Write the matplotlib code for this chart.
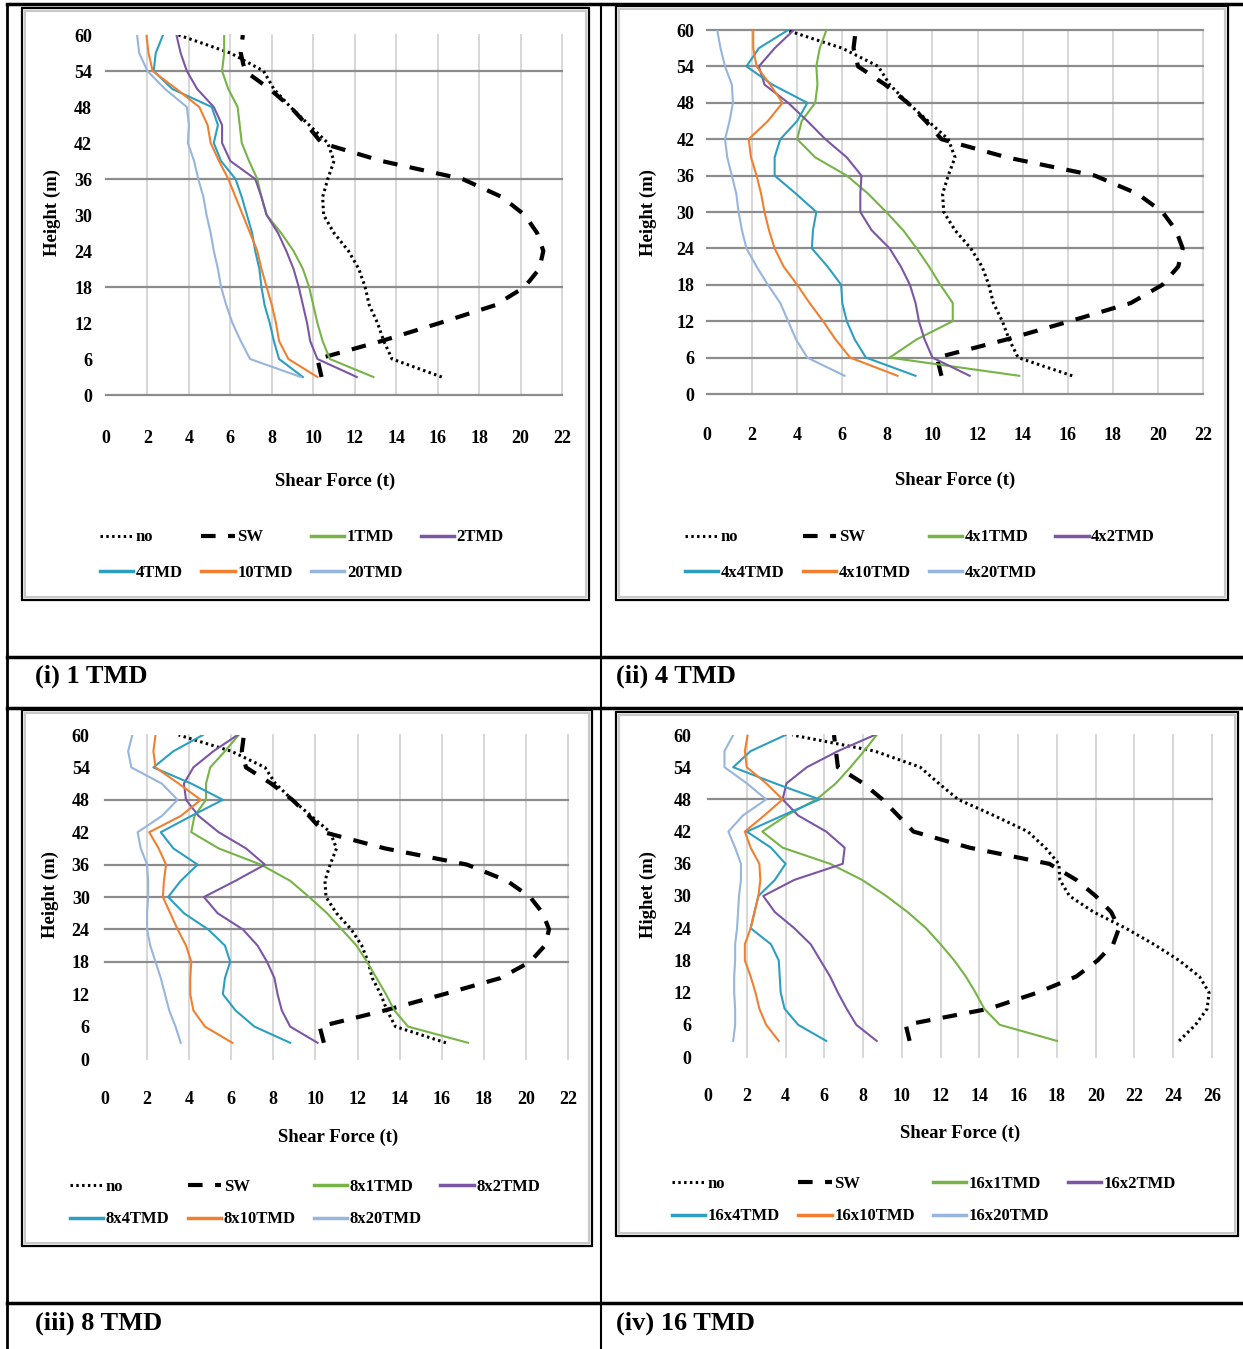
import numpy as np
import matplotlib.pyplot as plt
from matplotlib.lines import Line2D
from matplotlib.patches import Rectangle

# === Data (shear force in t, read bottom -> top) ===

heights = [3, 6, 9, 12, 15, 18, 21, 24, 27, 30, 33, 36, 39, 42, 45, 48, 51, 54, 57, 60]

no_tmd = [16.2, 13.8, 13.4, 13.1, 12.7, 12.5, 12.2, 11.7, 11.0, 10.5,
          10.45, 10.7, 11.0, 10.7, 9.8, 8.9, 8.1, 7.6, 6.0, 3.5]
sw = [10.4, 10.2, 13.3, 16.1, 18.8, 20.2, 20.9, 21.1, 20.8, 20.2,
      19.1, 17.2, 13.3, 10.4, 9.7, 8.9, 7.9, 6.7, 6.5, 6.6]

# (i) 1 TMD
p1_1 = [12.9, 10.8, 10.45, 10.2, 10.0, 9.8, 9.5, 9.05, 8.45, 7.75,
        7.5, 7.3, 6.9, 6.55, 6.45, 6.35, 5.9, 5.6, 5.7, 5.7]
p1_2 = [12.1, 10.2, 9.85, 9.7, 9.5, 9.3, 9.05, 8.7, 8.3, 7.75,
        7.5, 7.2, 6.0, 5.6, 5.6, 5.2, 4.4, 3.9, 3.6, 3.4]
p1_4 = [9.5, 8.35, 8.1, 7.9, 7.65, 7.5, 7.4, 7.2, 7.05, 6.8,
        6.55, 6.25, 5.55, 5.2, 5.4, 5.1, 3.2, 2.3, 2.4, 2.75]
p1_10 = [10.2, 8.8, 8.35, 8.2, 8.0, 7.75, 7.5, 7.3, 6.95, 6.6,
         6.25, 5.9, 5.45, 5.05, 4.9, 4.5, 3.4, 2.25, 2.05, 1.95]
p1_20 = [9.4, 6.95, 6.5, 6.1, 5.8, 5.55, 5.4, 5.2, 5.05, 4.85,
         4.7, 4.45, 4.25, 3.95, 4.0, 3.9, 2.85, 2.0, 1.6, 1.5]

# (ii) 4 TMD
p4_1 = [13.85, 8.1, 9.3, 10.9, 10.9, 10.35, 9.85, 9.3, 8.7, 7.95,
        7.15, 6.2, 4.8, 4.0, 4.2, 4.8, 4.9, 4.85, 5.0, 5.3]
p4_2 = [11.65, 10.0, 9.65, 9.4, 9.25, 9.0, 8.6, 8.1, 7.3, 6.8,
        6.8, 6.85, 6.2, 5.25, 4.45, 3.6, 2.55, 2.3, 3.0, 3.85]
p4_4 = [9.25, 7.05, 6.55, 6.2, 6.0, 5.95, 5.35, 4.65, 4.7, 4.85,
        3.95, 3.0, 3.0, 3.25, 4.0, 4.45, 2.9, 1.75, 2.3, 3.6]
p4_10 = [8.45, 6.35, 5.7, 5.15, 4.55, 4.0, 3.4, 3.0, 2.75, 2.55,
         2.4, 2.2, 1.95, 1.85, 2.7, 3.35, 2.8, 2.2, 2.05, 2.05]
p4_20 = [6.1, 4.45, 3.95, 3.6, 3.25, 2.7, 2.2, 1.75, 1.55, 1.4,
         1.3, 1.1, 0.9, 0.8, 1.0, 1.15, 1.1, 0.8, 0.6, 0.45]

# (iii) 8 TMD
p8_1 = [17.25, 14.4, 13.75, 13.35, 12.9, 12.45, 11.95, 11.25, 10.55, 9.7,
        8.8, 7.4, 5.4, 4.1, 4.25, 4.8, 4.8, 5.0, 5.7, 6.35]
p8_2 = [10.1, 8.8, 8.4, 8.2, 8.05, 7.7, 7.25, 6.55, 5.35, 4.7,
        6.2, 7.6, 6.7, 5.4, 4.45, 3.85, 3.75, 4.2, 5.15, 6.3]
p8_4 = [8.8, 7.1, 6.2, 5.6, 5.7, 5.95, 5.7, 4.9, 3.75, 3.0,
        3.6, 4.4, 3.25, 2.65, 4.1, 5.6, 4.1, 2.3, 3.25, 4.65]
p8_10 = [6.05, 4.75, 4.2, 4.05, 4.05, 4.1, 3.85, 3.45, 3.1, 2.75,
         2.8, 2.9, 2.55, 2.1, 3.6, 4.55, 3.5, 2.4, 2.3, 2.4]
p8_20 = [3.6, 3.35, 3.05, 2.85, 2.65, 2.4, 2.15, 2.0, 2.0, 2.05,
         2.05, 2.0, 1.7, 1.55, 2.7, 3.45, 2.7, 1.25, 1.1, 1.3]

# (iv) 16 TMD
no_16 = [24.3, 25.15, 25.75, 25.85, 25.35, 24.3, 23.0, 21.55, 19.9, 18.65,
         18.15, 18.1, 17.4, 16.5, 14.75, 12.9, 11.9, 10.95, 8.6, 4.35]
sw_16 = [10.4, 10.2, 14.5, 17.0, 19.0, 20.1, 20.9, 21.2, 20.8, 20.0,
         19.0, 17.6, 13.5, 10.6, 9.8, 9.0, 8.0, 6.7, 6.6, 6.5]
p16_1 = [18.0, 15.05, 14.25, 13.8, 13.3, 12.7, 12.0, 11.25, 10.3, 9.2,
         7.95, 6.3, 3.85, 2.8, 4.05, 5.6, 6.6, 7.35, 8.05, 8.7]
p16_2 = [8.7, 7.65, 7.15, 6.7, 6.3, 5.8, 5.3, 4.45, 3.45, 2.85,
         4.45, 6.95, 7.05, 6.1, 4.65, 3.85, 4.05, 5.1, 6.7, 8.6]
p16_4 = [6.1, 4.65, 3.95, 3.75, 3.7, 3.65, 3.25, 2.2, 2.4, 2.6,
         3.45, 4.0, 3.25, 2.0, 3.85, 5.75, 3.45, 1.3, 2.2, 4.0]
p16_10 = [3.65, 3.0, 2.65, 2.45, 2.2, 1.9, 1.9, 2.2, 2.4, 2.6,
          2.7, 2.65, 2.2, 1.9, 2.9, 3.85, 3.0, 2.0, 1.9, 2.05]
p16_20 = [1.3, 1.4, 1.4, 1.35, 1.35, 1.4, 1.4, 1.5, 1.55, 1.6,
          1.7, 1.7, 1.4, 1.05, 1.8, 3.0, 2.0, 0.85, 0.85, 1.3]

labels_1 = ["1TMD", "2TMD", "4TMD", "10TMD", "20TMD"]
labels_4 = ["4x1TMD", "4x2TMD", "4x4TMD", "4x10TMD", "4x20TMD"]
labels_8 = ["8x1TMD", "8x2TMD", "8x4TMD", "8x10TMD", "8x20TMD"]
labels_16 = ["16x1TMD", "16x2TMD", "16x4TMD", "16x10TMD", "16x20TMD"]
captions = ["(i) 1 TMD", "(ii) 4 TMD", "(iii) 8 TMD", "(iv) 16 TMD"]

colors = ["#77b347", "#7b56a4", "#2c9fc0", "#f08030", "#97b5dd"]

# === Figure ===

W, H = 1243, 1349
plt.rcParams['font.family'] = ['Liberation Serif', 'DejaVu Serif']
plt.rcParams['font.weight'] = 'bold'

fig = plt.figure(figsize=(W / 100, H / 100), dpi=100)


def fx(x):
    return x / W


def fy(y):
    return 1 - y / H


def hline(y, x0, x1, lw):
    fig.add_artist(Line2D([fx(x0), fx(x1)], [fy(y), fy(y)], color="black", lw=lw,
                          transform=fig.transFigure))


def vline(x, y0, y1, lw):
    fig.add_artist(Line2D([fx(x), fx(x)], [fy(y0), fy(y1)], color="black", lw=lw,
                          transform=fig.transFigure))


def panel(box, area, xmax, hgrid, no, swv, curves, labels, ylabel,
          xlab, ylab, leg, xpad, ypad, rowsp):
    l, t, r, b = box
    fig.add_artist(Rectangle((fx(l + 3), fy(b - 3)), (r - l - 6) / W, (b - t - 6) / H,
                             fill=False, ec="#c8c8c8", lw=1.5, transform=fig.transFigure))
    fig.add_artist(Rectangle((fx(l), fy(b)), (r - l) / W, (b - t) / H,
                             fill=False, ec="black", lw=1.6, transform=fig.transFigure))

    al, at, ar, ab = area
    ax = fig.add_axes([fx(al), fy(ab), (ar - al) / W, (ab - at) / H])
    ax.set_xlim(0, xmax)
    ax.set_ylim(0, 60)
    ax.set_xticks(range(0, xmax + 1, 2))
    ax.set_yticks(range(0, 61, 6))
    for s in ax.spines.values():
        s.set_visible(False)
    ax.tick_params(axis="both", length=0, labelsize=13)
    ax.tick_params(axis="x", pad=xpad)
    ax.tick_params(axis="y", pad=ypad)
    for xv in range(2, xmax + 1, 2):
        ax.axvline(xv, color="#d4d4d4", lw=1.3, zorder=0, clip_on=False)
    for hv in hgrid:
        ax.axhline(hv, color="#8c8c8c", lw=1.6, zorder=1, clip_on=False)

    h_no, = ax.plot(no, heights, color="black", lw=2.2, ls=(0, (0.8, 1.1)), zorder=3)
    h_sw, = ax.plot(swv, heights, color="black", lw=3.0, ls=(0, (3.5, 3.0)), zorder=3)
    hs = []
    for vals, c in zip(curves, colors):
        h, = ax.plot(vals, heights, color=c, lw=1.5, zorder=4)
        hs.append(h)

    fig.text(fx(xlab[0]), fy(xlab[1]), "Shear Force (t)", ha="center", va="center",
             fontsize=13.5)
    fig.text(fx(ylab[0]), fy(ylab[1]), ylabel, ha="center", va="center",
             rotation=90, fontsize=13.5)

    # excel-style row order: no, SW, c1, c2 / c3, c4, c5
    handles = [h_no, hs[2], h_sw, hs[3], hs[0], hs[4], hs[1]]
    names = ["no", labels[2], "SW", labels[3], labels[0], labels[4], labels[1]]
    lg = fig.legend(handles, names, loc="center", bbox_to_anchor=(fx(leg[0]), fy(leg[1])),
                    ncol=4, frameon=False, fontsize=12, handlelength=2.0,
                    handletextpad=0.15, columnspacing=1.1, labelspacing=rowsp)
    for line in lg.get_lines():
        if line.get_color() != "black":
            line.set_linewidth(2.5)
    return ax


panel((22, 8, 589, 600), (106, 35, 562, 395), 22, [0, 18, 36, 54],
      no_tmd, sw, [p1_1, p1_2, p1_4, p1_10, p1_20], labels_1, "Height (m)",
      (335, 481), (52, 213), (302, 555), 25, 10, 1.15)

panel((616, 6, 1228, 600), (707, 30, 1203, 394), 22, [0, 6, 12, 18, 24, 30, 36, 42, 48, 54, 60],
      no_tmd, sw, [p4_1, p4_2, p4_4, p4_10, p4_20], labels_4, "Height (m)",
      (955, 480), (648, 212), (920, 555), 24, 9, 1.15)

panel((22, 710, 592, 1246), (105, 735, 568, 1059), 22, [18, 24, 30, 36, 48],
      no_tmd, sw, [p8_1, p8_2, p8_4, p8_10, p8_20], labels_8, "Height (m)",
      (338, 1137), (50, 895), (305, 1203), 23, 11, 1.0)

panel((616, 712, 1238, 1236), (708, 735, 1212, 1057), 26, [48],
      no_16, sw_16, [p16_1, p16_2, p16_4, p16_10, p16_20], labels_16, "Highet (m)",
      (960, 1133), (648, 895), (924, 1200), 22, 12, 1.0)

# table lines
vline(7, 4, H, 2.0)
vline(601, 4, H, 1.5)
hline(4, 7, W, 2.5)
hline(657, 7, W, 2.5)
hline(708, 7, W, 2.5)
hline(1303, 7, W, 2.5)

fig.text(fx(35), fy(676), captions[0], ha="left", va="center", fontsize=19)
fig.text(fx(616), fy(676), captions[1], ha="left", va="center", fontsize=19)
fig.text(fx(35), fy(1323), captions[2], ha="left", va="center", fontsize=19)
fig.text(fx(616), fy(1323), captions[3], ha="left", va="center", fontsize=19)

fig.savefig("out.png", dpi=100)
